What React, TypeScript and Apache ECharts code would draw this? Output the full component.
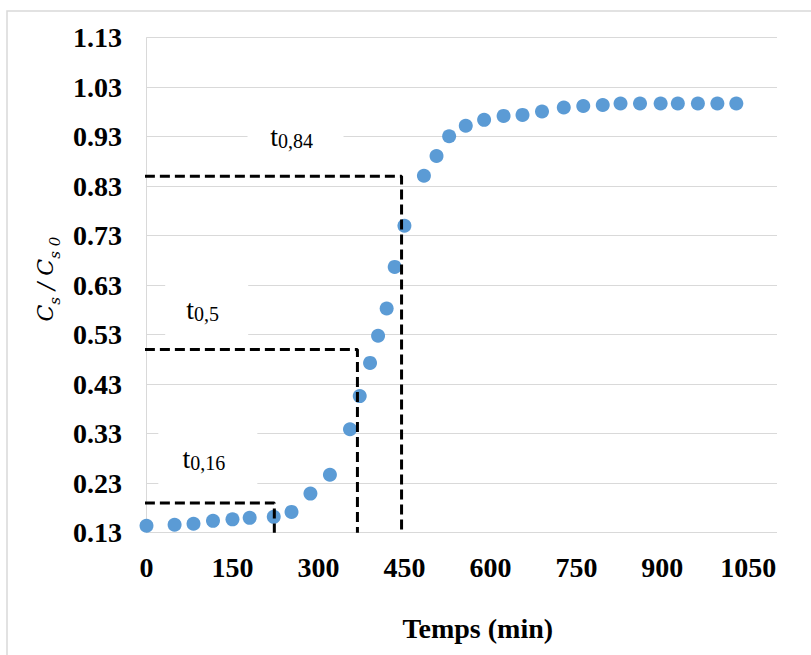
import React, { useEffect, useRef } from "react";
import * as echarts from "echarts";

// Elapsed time (min) and relative concentration Cs/Cs0
const times = [0, 49, 82, 116, 150, 180, 222, 253, 286, 320, 355, 372, 390, 404, 419, 433, 450, 484, 506, 528, 557, 589, 623, 656, 690, 728, 762, 796, 827, 861, 897, 927, 962, 996, 1029];
const ratios = [0.144, 0.146, 0.148, 0.154, 0.157, 0.160, 0.162, 0.172, 0.209, 0.247, 0.339, 0.406, 0.473, 0.528, 0.583, 0.667, 0.750, 0.851, 0.891, 0.931, 0.952, 0.964, 0.972, 0.974, 0.981, 0.989, 0.992, 0.994, 0.997, 0.997, 0.997, 0.997, 0.997, 0.997, 0.997];

// Characteristic times t0,16 / t0,5 / t0,84
const charNames = ["0,16", "0,5", "0,84"];
const charLevels = [0.19, 0.5, 0.85];
const charTimes = [223, 368, 445];

// Axis ticks
const xTickStep = 150;
const yTicks = [0.13, 0.23, 0.33, 0.43, 0.53, 0.63, 0.73, 0.83, 0.93, 1.03, 1.13];

// Layout of the annotation boxes (data coordinates + pixel size)
const labelBoxes = [
  { x: 107, y: 0.28, w: 99, h: 56 },
  { x: 105, y: 0.58, w: 83, h: 56 },
  { x: 260, y: 0.93, w: 96, h: 40 },
];

const SERIF = "'Liberation Serif', 'Times New Roman', serif";
const MATH = "'DejaVu Serif', serif";

export default function App() {
  const ref = useRef<HTMLDivElement>(null);

  useEffect(() => {
    if (!ref.current) return;
    const chart = echarts.init(ref.current, undefined, { renderer: "svg" });

    const dashed = charTimes.map((t, i) => ({
      type: "line",
      name: "t" + charNames[i],
      data: [
        [-29, charLevels[i]],
        [t, charLevels[i]],
        [t, yTicks[0]],
      ],
      clip: false,
      symbol: "none",
      silent: true,
      z: 5,
      lineStyle: { color: "#000", width: 3, type: [10, 5] },
    }));

    const option: any = {
      animation: false,
      backgroundColor: "#fff",
      graphic: [
        {
          type: "rect",
          shape: { x: 7, y: 11, width: 900, height: 900 },
          style: { fill: "none", stroke: "#D9D9D9", lineWidth: 1.5 },
          silent: true,
        },
      ],
      grid: { left: 146.5, top: 37.7, right: 34, bottom: 122.3, containLabel: false },
      xAxis: {
        type: "value",
        min: 0,
        max: 1100,
        interval: xTickStep,
        name: "Temps (min)",
        nameLocation: "middle",
        nameGap: 82,
        nameTextStyle: {
          fontFamily: SERIF,
          fontWeight: "bold",
          fontSize: 28,
          color: "#000",
          padding: [0, 0, 0, 32],
        },
        axisLine: { show: false },
        axisTick: { show: false },
        splitLine: { show: false },
        axisLabel: {
          margin: 21,
          fontFamily: SERIF,
          fontWeight: "bold",
          fontSize: 28,
          color: "#000",
          formatter: (v: number) => (v % xTickStep === 0 ? String(v) : ""),
        },
      },
      yAxis: {
        type: "value",
        min: yTicks[0],
        max: yTicks[yTicks.length - 1],
        interval: 0.1,
        name: "{m|C}{s|s}{m| / C}{s|s 0}",
        nameLocation: "middle",
        nameGap: 84,
        nameTextStyle: {
          padding: [0, 0, 0, 12],
          rich: {
            m: { fontFamily: MATH, fontStyle: "italic", fontSize: 22, color: "#000" },
            s: { fontFamily: MATH, fontStyle: "italic", fontSize: 15, color: "#000", padding: [18, 0, 0, 0] },
          },
        },
        axisLine: { show: true, lineStyle: { color: "#D9D9D9", width: 1 } },
        axisTick: { show: false },
        splitLine: { show: true, lineStyle: { color: "#D9D9D9", width: 1 } },
        axisLabel: {
          margin: 24.5,
          fontFamily: SERIF,
          fontWeight: "bold",
          fontSize: 28,
          color: "#000",
          formatter: (v: number) => v.toFixed(2),
        },
      },
      series: [
        {
          type: "scatter",
          name: "Cs/Cs0",
          data: times.map((t, i) => [t, ratios[i]]),
          symbol: "circle",
          symbolSize: 14,
          itemStyle: { color: "#5B9BD5", opacity: 1 },
          z: 3,
          silent: true,
        },
        ...dashed,
        {
          type: "scatter",
          name: "labels",
          symbol: "rect",
          silent: true,
          z: 4,
          itemStyle: { color: "#fff", opacity: 1 },
          data: labelBoxes.map((b, i) => ({
            value: [b.x, b.y],
            symbolSize: [b.w, b.h],
            label: { formatter: "{t|t}{s|" + charNames[i] + "}" },
          })),
          label: {
            show: true,
            position: "inside",
            offset: [-4, 0],
            color: "#000",
            textBorderWidth: 0,
            rich: {
              t: { fontFamily: SERIF, fontSize: 28, color: "#000", textBorderWidth: 0 },
              s: { fontFamily: SERIF, fontSize: 20, color: "#000", textBorderWidth: 0, padding: [9, 0, 0, 0] },
            },
          },
        },
      ],
    };

    chart.setOption(option);
    return () => chart.dispose();
  }, []);

  return (
    <div
      ref={ref}
      style={{ position: "absolute", left: 0, top: 0, width: 811, height: 655 }}
    />
  );
}
